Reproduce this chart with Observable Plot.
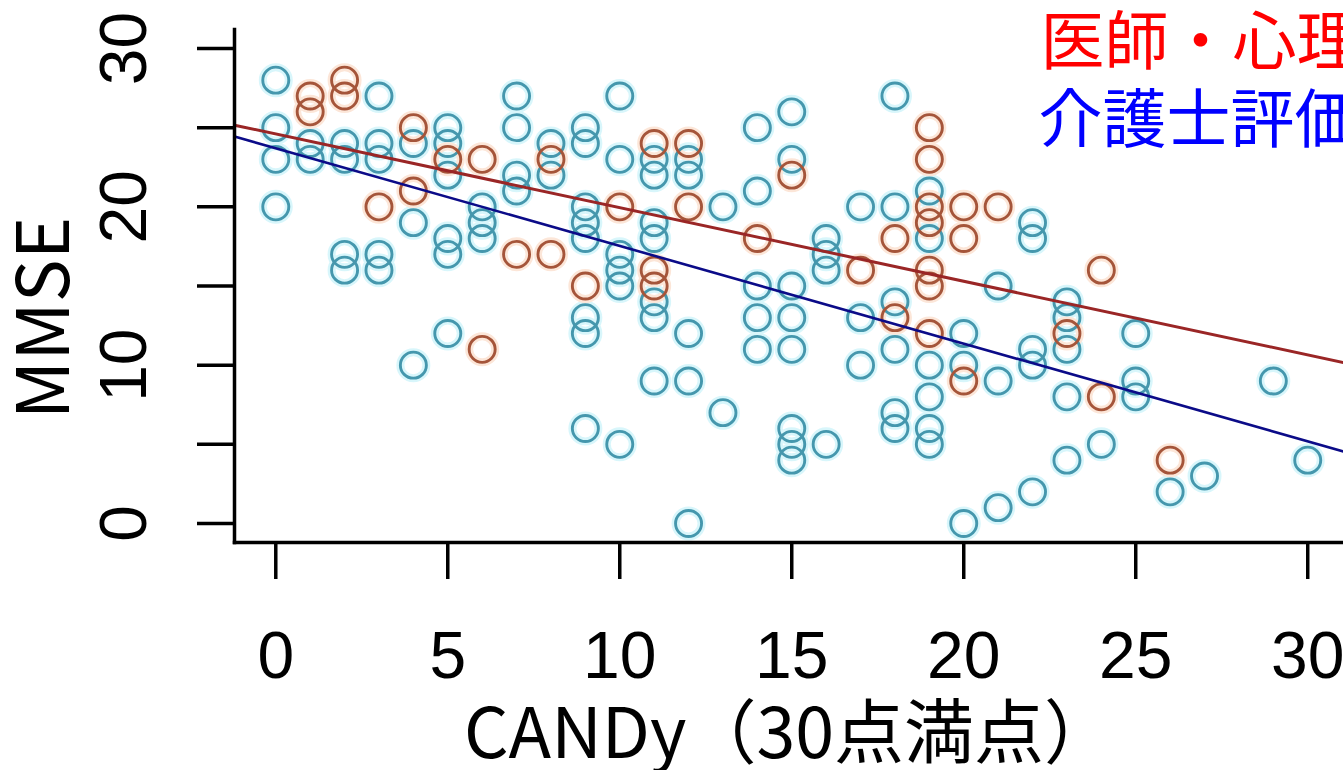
<!DOCTYPE html>
<html><head><meta charset="utf-8">
<script src="https://cdn.jsdelivr.net/npm/d3@7"></script>
<script src="https://cdn.jsdelivr.net/npm/@observablehq/plot@0.6"></script>
<style>
html,body{margin:0;padding:0;background:#fff;overflow:hidden;}
#chart{width:1343px;height:770px;overflow:hidden;}
</style></head><body><div id="chart"></div>
<script>
const groups = ["医師・心理士評価", "介護士評価"];

const doctorCandy = [1,1,2,2,3,4,4,5,6,6,7,8,8,9,10,11,11,11,12,12,14,15,17,18,18,19,19,19,19,19,19,19,20,20,20,21,23,24,24,26];
const doctorMmse  = [27,26,28,27,20,25,21,23,23,11,17,23,17,15,20,24,16,15,24,20,18,22,16,18,13,25,23,20,19,16,15,12,20,18,9,20,12,16,8,4];

const carerCandy = [
  0,0,0,0, 1,1, 2,2,2,2, 3,3,3,3,3, 4,4,4, 5,5,5,5,5,5, 6,6,6, 7,7,7,7, 8,8,
  9,9,9,9,9,9,9,9, 10,10,10,10,10,10, 11,11,11,11,11,11,11, 12,12,12,12,12,
  13,13, 14,14,14,14,14, 15,15,15,15,15,15,15,15, 16,16,16,16, 17,17,17,
  18,18,18,18,18,18, 19,19,19,19,19,19, 20,20,20, 21,21,21, 22,22,22,22,22,
  23,23,23,23,23, 24, 25,25,25, 26, 27, 29, 30
];
const carerMmse = [
  28,25,23,20, 24,23, 24,23,17,16, 27,24,23,17,16, 24,19,10, 25,24,22,18,17,12, 20,19,18, 27,25,22,21, 24,22,
  25,24,20,19,18,13,12,6, 27,23,17,16,15,5, 23,22,19,18,14,13,9, 23,22,12,9,0,
  20,7, 25,21,15,13,11, 26,23,15,13,11,6,5,4, 18,17,16,5, 20,13,10,
  27,20,14,11,7,6, 21,18,10,8,6,5, 12,10,0, 15,9,1, 19,18,11,10,2,
  14,13,11,8,4, 5, 12,9,8, 2, 3, 9, 4
];

const lineIntercepts = [24.6, 23.7];
const lineSlopes = [-0.465, -0.617];

const xTicks = [0, 5, 10, 15, 20, 25, 30];
const yTicks = [0, 5, 10, 15, 20, 25, 30];
const yTickLabels = ["0", "", "10", "", "20", "", "30"];
const xTitle = "CANDy（30点満点）";
const yTitle = "MMSE";

const xDomain = [-1.2, 31.04];
const yDomain = [-1.2, 31.2];

const doctorRows = doctorCandy.map((c, i) => ({candy: c, mmse: doctorMmse[i]}));
const carerRows = carerCandy.map((c, i) => ({candy: c, mmse: carerMmse[i]}));
const fitLine = k => xDomain.map(x => ({candy: x, mmse: lineIntercepts[k] + lineSlopes[k] * x}));

const tickFont = "'Liberation Sans', Arial, sans-serif";
const cjkFont = "'Noto Sans CJK JP', sans-serif";

const plot = Plot.plot({
  width: 1343, height: 770,
  marginLeft: 234, marginRight: 0, marginTop: 29, marginBottom: 228,
  x: {domain: xDomain},
  y: {domain: yDomain},
  style: {background: "white", color: "black"},
  marks: [
    Plot.dot(carerRows, {x: "candy", y: "mmse", r: 13, stroke: "#d8f6fb", strokeWidth: 8}),
    Plot.dot(doctorRows, {x: "candy", y: "mmse", r: 13, stroke: "#fce6d8", strokeWidth: 8}),
    Plot.dot(carerRows, {x: "candy", y: "mmse", r: 13, stroke: "#4597ad", strokeWidth: 2.9}),
    Plot.dot(doctorRows, {x: "candy", y: "mmse", r: 13, stroke: "#a5553a", strokeWidth: 2.9}),
    Plot.line(fitLine(0), {x: "candy", y: "mmse", stroke: "#9a2626", strokeWidth: 3}),
    Plot.line(fitLine(1), {x: "candy", y: "mmse", stroke: "#0b0b88", strokeWidth: 2.6}),
    Plot.frame({anchor: "left", strokeWidth: 3.5, strokeLinecap: "square"}),
    Plot.frame({anchor: "bottom", strokeWidth: 3.5, strokeLinecap: "square"}),
    Plot.axisX(xTicks, {tickSize: 37, tickPadding: 52, strokeWidth: 3.5, fontSize: 66, fontFamily: tickFont, label: null}),
    Plot.axisY(yTicks, {tickSize: 37, tickPadding: 52, tickRotate: -90, strokeWidth: 3.5, fontSize: 66, fontFamily: tickFont, label: null,
      tickFormat: d => yTickLabels[yTicks.indexOf(d)]}),
    Plot.text([xTitle], {text: d => d, frameAnchor: "bottom", dx: 0, dy: 215, textAnchor: "middle", lineAnchor: "bottom", fontSize: 70, fontFamily: cjkFont, fill: "black"}),
    Plot.text([yTitle], {text: d => d, frameAnchor: "left", rotate: -90, dx: -166, dy: 32, textAnchor: "middle", lineAnchor: "bottom", fontSize: 72, fontFamily: cjkFont, fill: "black"}),
    Plot.text([groups[0]], {text: d => d, frameAnchor: "top-left", dx: 806, dy: 14, textAnchor: "start", lineAnchor: "middle", fill: "#ff0000", fontSize: 64, fontFamily: cjkFont}),
    Plot.text([groups[1]], {text: d => d, frameAnchor: "top-left", dx: 804, dy: 92, textAnchor: "start", lineAnchor: "middle", fill: "#0000ff", fontSize: 64, fontFamily: cjkFont})
  ]
});
document.getElementById("chart").appendChild(plot);
</script>
</body></html>
